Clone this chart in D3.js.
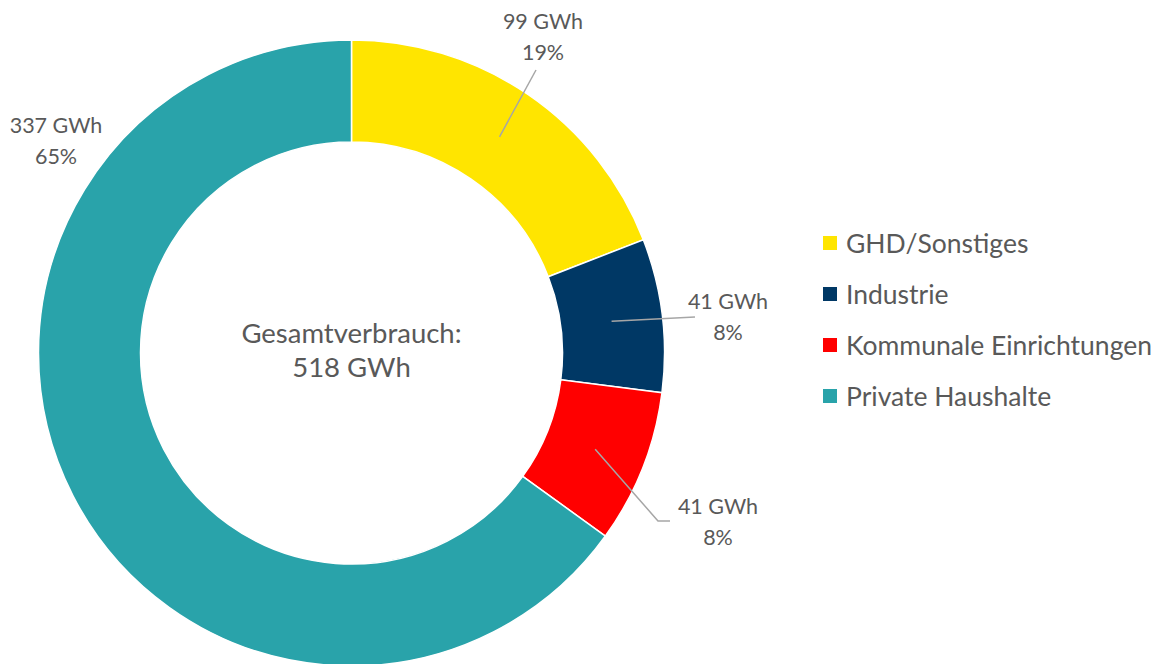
<!DOCTYPE html>
<html>
<head>
<meta charset="utf-8">
<script src="https://cdn.jsdelivr.net/npm/d3@7"></script>
<style>
  body { margin: 0; background: #fff; }
  text { font-family: Lato, "Open Sans", sans-serif; fill: #595959; }
</style>
</head>
<body>
<script>
// Données
var categories = ["GHD/Sonstiges", "Industrie", "Kommunale Einrichtungen", "Private Haushalte"];
var valeurs = [99, 41, 41, 337];
var pourcents = ["19%", "8%", "8%", "65%"];
var couleurs = ["#FFE500", "#003865", "#FF0000", "#29A3AA"];
var totalLabel = ["Gesamtverbrauch:", "518 GWh"];

// Mise en page
var width = 1169, height = 664;
var cx = 351.5, cy = 353;
var rOuter = 313, rInner = 211;
// positions des étiquettes (centre du texte, ligne du haut)
var labelPos = [[543, 29], [728, 309], [718, 514], [56, 133]];
// point d'arrivée des lignes de rappel (null = pas de ligne)
var leaderEnd = [[[536, 70]], [[695, 317]], [[658, 521], [670, 521]], null];

var svg = d3.select("body").append("svg")
  .attr("width", width)
  .attr("height", height);

var pie = d3.pie().sort(null).value(function (d) { return d; });
var arcs = pie(valeurs);
var arc = d3.arc().innerRadius(rInner).outerRadius(rOuter);

var g = svg.append("g").attr("transform", `translate(${cx},${cy})`);

g.selectAll("path")
  .data(arcs)
  .enter()
  .append("path")
  .attr("d", arc)
  .attr("fill", function (d, i) { return couleurs[i]; })
  .attr("stroke", "#fff")
  .attr("stroke-width", 1.5);

// lignes de rappel
arcs.forEach(function (d, i) {
  if (!leaderEnd[i]) return;
  var c = arc.centroid(d);
  var pts = [[cx + c[0], cy + c[1]]].concat(leaderEnd[i]);
  svg.append("path")
    .attr("d", d3.line()(pts))
    .attr("fill", "none")
    .attr("stroke", "#A6A6A6")
    .attr("stroke-width", 1.5);
});

// étiquettes
arcs.forEach(function (d, i) {
  var p = labelPos[i];
  var t = svg.append("text")
    .attr("text-anchor", "middle")
    .style("font-size", "21.5px");
  t.append("tspan").attr("x", p[0]).attr("y", p[1]).text(valeurs[i] + " GWh");
  t.append("tspan").attr("x", p[0]).attr("y", p[1] + 31).text(pourcents[i]);
});

// texte central
var ct = svg.append("text")
  .attr("text-anchor", "middle")
  .style("font-size", "27.5px");
ct.append("tspan").attr("x", cx).attr("y", 343).text(totalLabel[0]);
ct.append("tspan").attr("x", cx).attr("y", 377).text(totalLabel[1]);

// légende
var legend = svg.append("g").attr("transform", "translate(823,236)");
categories.forEach(function (c, i) {
  var row = legend.append("g").attr("transform", `translate(0,${i * 51})`);
  row.append("rect").attr("width", 14).attr("height", 14).attr("fill", couleurs[i]);
  row.append("text")
    .attr("x", 23)
    .attr("y", 17)
    .style("font-size", "26.5px")
    .text(c);
});
</script>
</body>
</html>
